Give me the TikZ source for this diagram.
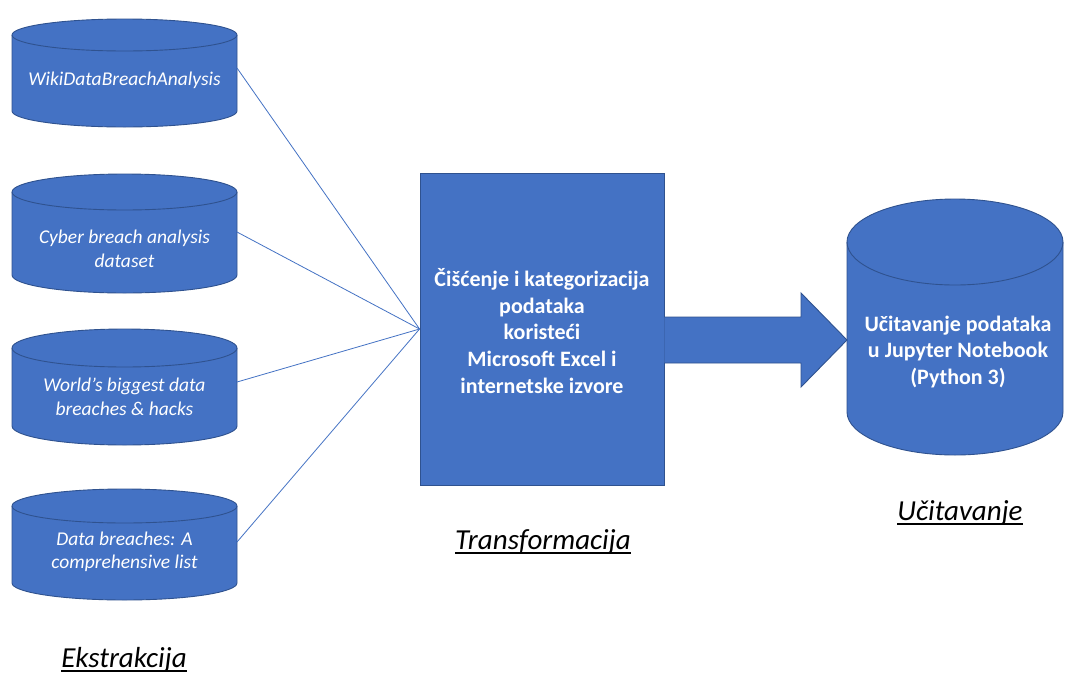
\documentclass[tikz,border=0pt]{standalone}
\usepackage{fontspec}
\setmainfont{Carlito}
\usetikzlibrary{calc}
\definecolor{cfill}{HTML}{4472C4}
\definecolor{cedge}{HTML}{2F528F}
\definecolor{cline}{HTML}{4472C4}
\tikzset{
  shapefill/.style={fill=cfill, draw=cedge, line width=0.9pt},
  frontarc/.style={draw=cedge, line width=0.9pt},
  cyltxt/.style={text=white, align=center, inner sep=0pt, font=\itshape\fontsize{19.5}{23.5}\selectfont},
  boldtxt/.style={text=white, align=center, inner sep=0pt, font=\bfseries\fontsize{22}{26.7}\selectfont},
  conn/.style={draw=cline, line width=0.8pt},
  stagelbl/.style={inner sep=0pt, font=\itshape\fontsize{29}{34}\selectfont}
}
% name, cx, rx, ytop, ybot, ry
\newcommand\dbcyl[6]{%
  \filldraw[shapefill] (#2-#3,#4+#6) -- (#2-#3,#5-#6)
    arc[start angle=180,end angle=360,x radius=#3pt,y radius=#6pt]
    -- (#2+#3,#4+#6)
    arc[start angle=0,end angle=180,x radius=#3pt,y radius=#6pt] -- cycle;
  \draw[frontarc] (#2-#3,#4+#6) arc[start angle=180,end angle=360,x radius=#3pt,y radius=#6pt];
}
\newcommand\ulabel[3]{% name, position, text
  \node[stagelbl] (#1) at #2 {#3};
  \draw[line width=1.3pt] ([yshift=-3.5pt]#1.base west) -- ([yshift=-3.5pt]#1.base east);
}
\begin{document}
\begin{tikzpicture}[x=1pt,y=-1pt]
\useasboundingbox[fill=white] (0,0) rectangle (1066,673);

% left source cylinders
\dbcyl{c1}{124.5}{112.5}{19}{127}{16}
\node[cyltxt] (c1) at (124.5,80) {WikiDataBreachAnalysis};
\coordinate (c1e) at (237,68);

\dbcyl{c2}{124.5}{112.5}{174}{293}{18}
\node[cyltxt] (c2) at (124.5,249) {Cyber breach analysis\\dataset};
\coordinate (c2e) at (237,232);

\dbcyl{c3}{124.5}{112.5}{329}{445}{19}
\node[cyltxt] (c3) at (124.5,397) {World's biggest data\\breaches \& hacks};
\coordinate (c3e) at (237,382);

\dbcyl{c4}{124.5}{112.5}{489}{600}{17}
\node[cyltxt] (c4) at (124.5,552) {Data breaches: A\\comprehensive list};
\coordinate (c4e) at (237,542);

% transformation box
\node[shapefill, minimum width=244pt, minimum height=312pt, inner sep=0pt] (rect) at (542,329) {};
\node[boldtxt] (rtxt) at (542,331) {Čišćenje i kategorizacija\\podataka\\koristeći\\Microsoft Excel i\\internetske izvore};

\foreach \c in {c1e,c2e,c3e,c4e}
  \draw[conn] (\c) -- (rect.west);

% target cylinder
\dbcyl{out}{955}{108}{199}{455}{43}
\node[boldtxt] (outtxt) at (958,352) {Učitavanje podataka\\u Jupyter Notebook\\(Python 3)};
\coordinate (outw) at (847,340);

% block arrow
\coordinate (a0) at (rect.east |- outw);
\filldraw[shapefill] ($(a0)+(0,-23)$) -- ($(outw)+(-46,-23)$) -- ($(outw)+(-46,-47)$)
  -- (outw) -- ($(outw)+(-46,47)$) -- ($(outw)+(-46,23)$) -- ($(a0)+(0,23)$);

% stage labels
\ulabel{l1}{(124,660)}{Ekstrakcija}
\ulabel{l2}{(543,542)}{Transformacija}
\ulabel{l3}{(960,513)}{Učitavanje}
\end{tikzpicture}
\end{document}
